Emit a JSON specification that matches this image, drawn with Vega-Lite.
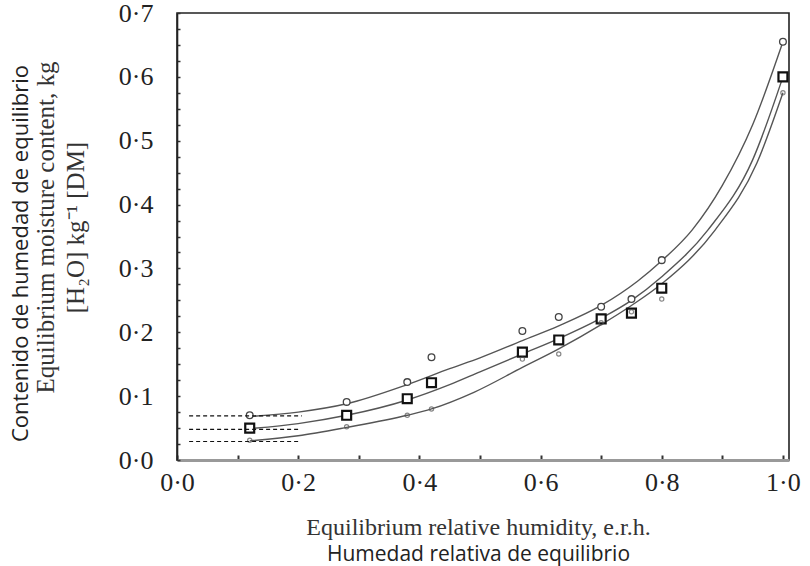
{
  "$schema": "https://vega.github.io/schema/vega-lite/v6.json",
  "width": 612,
  "height": 447,
  "autosize": "none",
  "padding": {"left": 177, "top": 13, "right": 21, "bottom": 106},
  "background": "white",
  "config": {"view": {"stroke": "#222", "strokeWidth": 1.6}},
  "datasets": {
    "curves": [
      {"series": "A", "x": 0.12, "y": 0.068}, {"series": "A", "x": 0.2, "y": 0.075}, {"series": "A", "x": 0.28, "y": 0.088}, {"series": "A", "x": 0.38, "y": 0.118}, {"series": "A", "x": 0.45, "y": 0.143}, {"series": "A", "x": 0.5, "y": 0.16}, {"series": "A", "x": 0.57, "y": 0.187}, {"series": "A", "x": 0.63, "y": 0.21}, {"series": "A", "x": 0.7, "y": 0.242}, {"series": "A", "x": 0.76, "y": 0.28}, {"series": "A", "x": 0.8, "y": 0.312}, {"series": "A", "x": 0.85, "y": 0.36}, {"series": "A", "x": 0.9, "y": 0.43}, {"series": "A", "x": 0.95, "y": 0.525}, {"series": "A", "x": 1.0, "y": 0.655},
      {"series": "B", "x": 0.12, "y": 0.049}, {"series": "B", "x": 0.2, "y": 0.057}, {"series": "B", "x": 0.28, "y": 0.07}, {"series": "B", "x": 0.38, "y": 0.094}, {"series": "B", "x": 0.45, "y": 0.118}, {"series": "B", "x": 0.5, "y": 0.138}, {"series": "B", "x": 0.57, "y": 0.166}, {"series": "B", "x": 0.63, "y": 0.19}, {"series": "B", "x": 0.7, "y": 0.222}, {"series": "B", "x": 0.75, "y": 0.25}, {"series": "B", "x": 0.8, "y": 0.287}, {"series": "B", "x": 0.876, "y": 0.36}, {"series": "B", "x": 0.95, "y": 0.47}, {"series": "B", "x": 1.0, "y": 0.6},
      {"series": "C", "x": 0.12, "y": 0.03}, {"series": "C", "x": 0.2, "y": 0.038}, {"series": "C", "x": 0.28, "y": 0.051}, {"series": "C", "x": 0.38, "y": 0.07}, {"series": "C", "x": 0.42, "y": 0.08}, {"series": "C", "x": 0.49, "y": 0.106}, {"series": "C", "x": 0.57, "y": 0.145}, {"series": "C", "x": 0.63, "y": 0.174}, {"series": "C", "x": 0.7, "y": 0.212}, {"series": "C", "x": 0.75, "y": 0.242}, {"series": "C", "x": 0.8, "y": 0.276}, {"series": "C", "x": 0.888, "y": 0.36}, {"series": "C", "x": 0.957, "y": 0.465}, {"series": "C", "x": 1.0, "y": 0.575}
    ],
    "points": [
      {"series": "A", "x": 0.12, "y": 0.07}, {"series": "A", "x": 0.28, "y": 0.091}, {"series": "A", "x": 0.38, "y": 0.122}, {"series": "A", "x": 0.42, "y": 0.161}, {"series": "A", "x": 0.57, "y": 0.202}, {"series": "A", "x": 0.63, "y": 0.224}, {"series": "A", "x": 0.7, "y": 0.24}, {"series": "A", "x": 0.75, "y": 0.252}, {"series": "A", "x": 0.8, "y": 0.313}, {"series": "A", "x": 1.0, "y": 0.655},
      {"series": "B", "x": 0.12, "y": 0.05}, {"series": "B", "x": 0.28, "y": 0.07}, {"series": "B", "x": 0.38, "y": 0.096}, {"series": "B", "x": 0.42, "y": 0.121}, {"series": "B", "x": 0.57, "y": 0.169}, {"series": "B", "x": 0.63, "y": 0.188}, {"series": "B", "x": 0.7, "y": 0.221}, {"series": "B", "x": 0.75, "y": 0.23}, {"series": "B", "x": 0.8, "y": 0.269}, {"series": "B", "x": 1.0, "y": 0.6},
      {"series": "C", "x": 0.12, "y": 0.031}, {"series": "C", "x": 0.28, "y": 0.052}, {"series": "C", "x": 0.38, "y": 0.07}, {"series": "C", "x": 0.42, "y": 0.08}, {"series": "C", "x": 0.57, "y": 0.158}, {"series": "C", "x": 0.63, "y": 0.166}, {"series": "C", "x": 0.7, "y": 0.215}, {"series": "C", "x": 0.75, "y": 0.232}, {"series": "C", "x": 0.8, "y": 0.252}, {"series": "C", "x": 1.0, "y": 0.575}
    ],
    "dashes": [
      {"x0": 0.02, "x1": 0.206, "y": 0.069},
      {"x0": 0.02, "x1": 0.204, "y": 0.048},
      {"x0": 0.02, "x1": 0.204, "y": 0.029}
    ]
  },
  "layer": [
    {
      "encoding": {
        "x": {
          "field": "x", "type": "quantitative",
          "scale": {"domain": [0, 1.01], "nice": false, "zero": false},
          "axis": {
            "values": [0, 0.1, 0.2, 0.3, 0.4, 0.5, 0.6, 0.7, 0.8, 0.9, 1.0],
            "labelExpr": "round(datum.value*10)%2==0 ? replace(format(datum.value,'.1f'),'.','·') : ''",
            "labelFont": "Liberation Serif", "labelFontSize": 26, "labelColor": "#222",
            "labelPadding": 14, "labelFlush": false, "labelOverlap": false,
            "tickSize": -5, "tickColor": "#333", "tickWidth": 2,
            "domainColor": "#999", "domainWidth": 3, "grid": false,
            "title": "Equilibrium relative humidity, e.r.h.",
            "titleFont": "Liberation Serif", "titleFontSize": 24, "titleFontWeight": "normal", "titleColor": "#333",
            "titleX": 301, "titleY": 74, "titleAlign": "center", "titleBaseline": "alphabetic"
          }
        },
        "y": {
          "field": "y", "type": "quantitative",
          "scale": {"domain": [0, 0.7], "nice": false, "zero": false},
          "axis": {
            "values": [0, 0.025, 0.05, 0.075, 0.1, 0.125, 0.15, 0.175, 0.2, 0.225, 0.25, 0.275, 0.3, 0.325, 0.35, 0.375, 0.4, 0.425, 0.45, 0.475, 0.5, 0.525, 0.55, 0.575, 0.6, 0.625, 0.65, 0.675, 0.7],
            "labelExpr": "abs(datum.value*10-round(datum.value*10))<0.001 ? replace(format(datum.value,'.1f'),'.','·') : ''",
            "labelFont": "Liberation Serif", "labelFontSize": 26, "labelColor": "#222",
            "labelPadding": 27, "labelFlush": false, "labelOverlap": false,
            "tickSize": -3, "tickColor": "#333", "tickWidth": 1.5,
            "domainColor": "#222", "domainWidth": 1.6, "grid": false,
            "title": ["Equilibrium moisture content, kg", "[H₂O] kg⁻¹ [DM]"],
            "titleFont": "Liberation Serif", "titleFontSize": 25, "titleFontWeight": "normal", "titleColor": "#333",
            "titleLineHeight": 30, "titleAngle": -90,
            "titleX": -132, "titleY": 214, "titleAlign": "center", "titleBaseline": "middle"
          }
        }
      },
      "layer": [
        {
          "data": {"name": "curves"},
          "mark": {"type": "line", "interpolate": "monotone", "color": "#555", "strokeWidth": 1.4},
          "encoding": {"detail": {"field": "series"}}
        },
        {
          "data": {"name": "points"},
          "transform": [{"filter": "datum.series == 'A'"}],
          "mark": {"type": "point", "shape": "circle", "size": 45, "filled": false, "stroke": "#444", "strokeWidth": 1.3, "fill": "white", "fillOpacity": 1}
        },
        {
          "data": {"name": "points"},
          "transform": [{"filter": "datum.series == 'B'"}],
          "mark": {"type": "point", "shape": "square", "size": 80, "filled": false, "stroke": "#111", "strokeWidth": 2.2, "fill": "white", "fillOpacity": 1}
        },
        {
          "data": {"name": "points"},
          "transform": [{"filter": "datum.series == 'C'"}],
          "mark": {"type": "point", "shape": "circle", "size": 18, "filled": false, "stroke": "#555", "strokeWidth": 1.2}
        }
      ]
    },
    {
      "data": {"name": "dashes"},
      "mark": {"type": "rule", "strokeDash": [4, 3], "color": "#111", "strokeWidth": 1.2},
      "encoding": {
        "x": {
          "field": "x0", "type": "quantitative",
          "scale": {"domain": [0, 1.01], "nice": false, "zero": false},
          "axis": {
            "orient": "bottom", "labels": false, "ticks": false, "domain": false, "grid": false,
            "title": "Humedad relativa de equilibrio",
            "titleFont": "Open Sans", "titleFontSize": 21, "titleFontWeight": "normal", "titleColor": "#222",
            "titleX": 301, "titleY": 100, "titleAlign": "center", "titleBaseline": "alphabetic"
          }
        },
        "x2": {"field": "x1"},
        "y": {
          "field": "y", "type": "quantitative",
          "scale": {"domain": [0, 0.7], "nice": false, "zero": false},
          "axis": {
            "orient": "left", "labels": false, "ticks": false, "domain": false, "grid": false,
            "title": "Contenido de humedad de equilibrio",
            "titleFont": "Open Sans", "titleFontSize": 22, "titleFontWeight": "normal", "titleColor": "#222",
            "titleAngle": -90, "titleX": -157, "titleY": 240, "titleAlign": "center", "titleBaseline": "middle"
          }
        }
      }
    }
  ],
  "resolve": {"scale": {"x": "independent", "y": "independent"}}
}
